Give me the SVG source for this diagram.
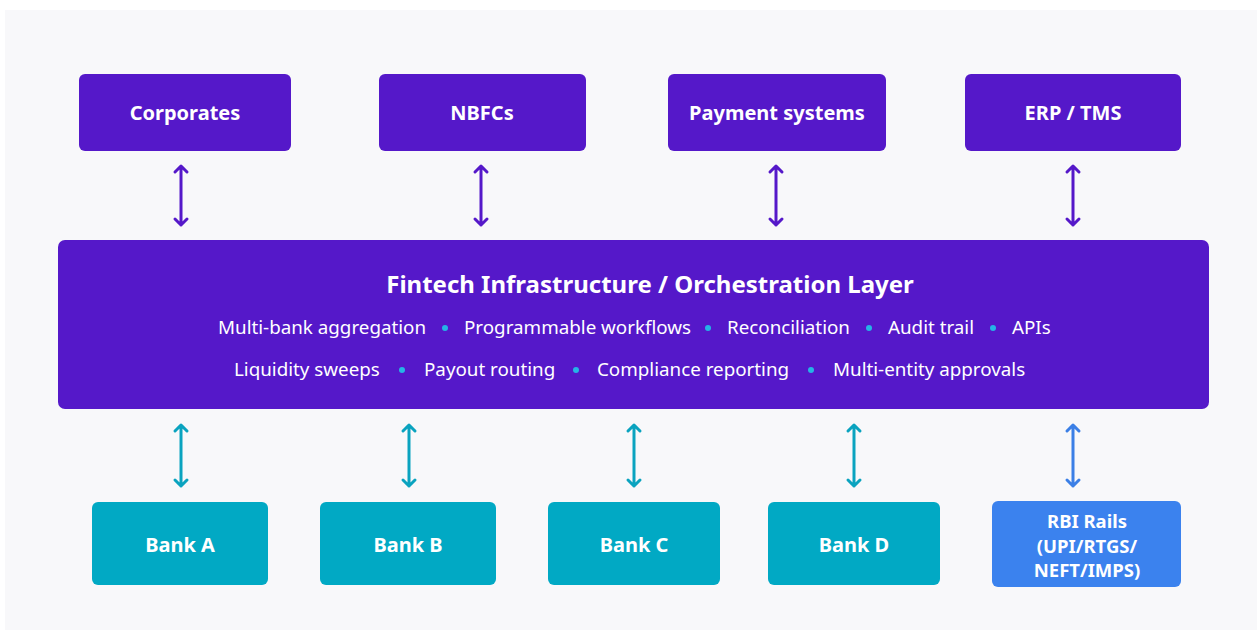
<svg xmlns="http://www.w3.org/2000/svg" width="1257" height="630" viewBox="0 0 1257 630">
<defs>
<style>
.bg{fill:#f8f8fa}
.pur{fill:#5518c9}
.teal{fill:#01a9c4}
.blue{fill:#3b82ee}
.lbl{font-family:"Noto Sans","Open Sans",sans-serif;font-weight:700;font-size:20px;fill:#ffffff;text-anchor:middle}
.rbi{font-family:"Noto Sans","Open Sans",sans-serif;font-weight:700;font-size:18.5px;fill:#ffffff;text-anchor:middle}
.title{font-family:"Noto Sans","Open Sans",sans-serif;font-weight:700;font-size:24px;fill:#ffffff;text-anchor:middle}
.item{font-family:"Noto Sans","Open Sans",sans-serif;font-size:18.8px;fill:#ffffff}
.dot{fill:#25b4e6}
.cp{stroke:#5518c9;stroke-width:3;fill:none;stroke-linecap:round;stroke-linejoin:round}
.ct{stroke:#0aa3bf;stroke-width:3;fill:none;stroke-linecap:round;stroke-linejoin:round}
.cb{stroke:#3b7fe6;stroke-width:3;fill:none;stroke-linecap:round;stroke-linejoin:round}
</style>
</defs>
<rect x="0" y="0" width="1257" height="630" fill="#ffffff"/>
<rect class="bg" x="5" y="10" width="1252" height="620"/>

<g id="corporates"><rect class="pur" x="79" y="74" width="212" height="77" rx="6"/><text class="lbl" x="185" y="120">Corporates</text></g>
<g id="nbfcs"><rect class="pur" x="379" y="74" width="207" height="77" rx="6"/><text class="lbl" x="482" y="120">NBFCs</text></g>
<g id="payment"><rect class="pur" x="668" y="74" width="218" height="77" rx="6"/><text class="lbl" x="777" y="120">Payment systems</text></g>
<g id="erp"><rect class="pur" x="965" y="74" width="216" height="77" rx="6"/><text class="lbl" x="1073" y="120">ERP / TMS</text></g>

<g id="orchestration">
<rect class="pur" x="58" y="240" width="1151" height="169" rx="7"/>
<text class="title" x="650" y="293">Fintech Infrastructure / Orchestration Layer</text>
<text class="item" x="218" y="334">Multi-bank aggregation</text>
<circle class="dot" cx="445" cy="328" r="3"/>
<text class="item" x="464" y="334">Programmable workflows</text>
<circle class="dot" cx="708" cy="328" r="3"/>
<text class="item" x="727" y="334">Reconciliation</text>
<circle class="dot" cx="869" cy="328" r="3"/>
<text class="item" x="888" y="334">Audit trail</text>
<circle class="dot" cx="993" cy="328" r="3"/>
<text class="item" x="1012" y="334">APIs</text>
<text class="item" x="234" y="376">Liquidity sweeps</text>
<circle class="dot" cx="402" cy="370" r="3"/>
<text class="item" x="424" y="376">Payout routing</text>
<circle class="dot" cx="576" cy="370" r="3"/>
<text class="item" x="597" y="376">Compliance reporting</text>
<circle class="dot" cx="811" cy="370" r="3"/>
<text class="item" x="833" y="376">Multi-entity approvals</text>
</g>

<g id="bankA"><rect class="teal" x="92" y="502" width="176" height="83" rx="6"/><text class="lbl" x="180" y="552">Bank A</text></g>
<g id="bankB"><rect class="teal" x="320" y="502" width="176" height="83" rx="6"/><text class="lbl" x="408" y="552">Bank B</text></g>
<g id="bankC"><rect class="teal" x="548" y="502" width="172" height="83" rx="6"/><text class="lbl" x="634" y="552">Bank C</text></g>
<g id="bankD"><rect class="teal" x="768" y="502" width="172" height="83" rx="6"/><text class="lbl" x="854" y="552">Bank D</text></g>
<g id="rbi"><rect class="blue" x="992" y="501" width="189" height="86" rx="6"/>
<text class="rbi" x="1087" y="528"><tspan x="1087" y="528">RBI Rails</tspan><tspan x="1087" y="552.5">(UPI/RTGS/</tspan><tspan x="1087" y="577">NEFT/IMPS)</tspan></text></g>

<g id="connectors">
<path class="cp" d="M181 166V225M175 172L181 166L187 172M175 219L181 225L187 219"/>
<path class="cp" d="M481 166V225M475 172L481 166L487 172M475 219L481 225L487 219"/>
<path class="cp" d="M776 166V225M770 172L776 166L782 172M770 219L776 225L782 219"/>
<path class="cp" d="M1073 166V225M1067 172L1073 166L1079 172M1067 219L1073 225L1079 219"/>
<path class="ct" d="M181 425V486M175 431L181 425L187 431M175 480L181 486L187 480"/>
<path class="ct" d="M409 425V486M403 431L409 425L415 431M403 480L409 486L415 480"/>
<path class="ct" d="M634 425V486M628 431L634 425L640 431M628 480L634 486L640 480"/>
<path class="ct" d="M854 425V486M848 431L854 425L860 431M848 480L854 486L860 480"/>
<path class="cb" d="M1073 425V486M1067 431L1073 425L1079 431M1067 480L1073 486L1079 480"/>
</g>
</svg>
